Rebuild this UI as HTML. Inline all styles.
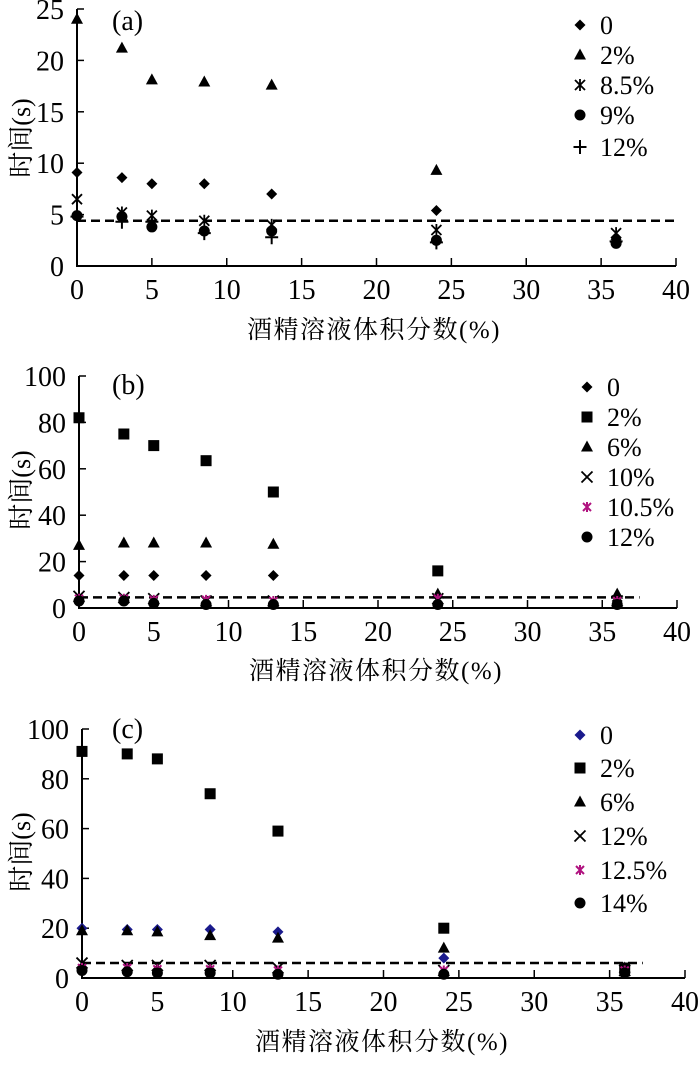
<!DOCTYPE html>
<html><head><meta charset="utf-8"><style>
body{margin:0;background:#fff}
svg text{font-family:"Liberation Serif","Noto Serif CJK SC",serif;fill:#000}
</style></head><body>
<svg id="s" width="700" height="1065" viewBox="0 0 700 1065" xmlns="http://www.w3.org/2000/svg">
<defs>
<path id="dia" d="M0,-5.5 L5.5,0 L0,5.5 L-5.5,0Z" fill="#000"/>
<path id="diab" d="M0,-5.5 L5.5,0 L0,5.5 L-5.5,0Z" fill="#1a1a8c"/>
<path id="tri" d="M0,-6.5 L6,4.5 L-6,4.5Z" fill="#000"/>
<rect id="sq" x="-5.5" y="-5.5" width="11" height="11" fill="#000"/>
<circle id="cir" r="5.5" fill="#000"/>
<path id="ast" d="M-5,-5L5,5M-5,5L5,-5M0,-6V6" stroke="#000" stroke-width="1.8" fill="none"/>
<path id="astp" d="M-4,-4L4,4M-4,4L4,-4M0,-5V5" stroke="#b0127f" stroke-width="2" fill="none"/>
<path id="xx" d="M-5.5,-5.5L5.5,5.5M-5.5,5.5L5.5,-5.5" stroke="#000" stroke-width="1.8" fill="none"/>
<path id="pl" d="M-6.5,0H6.5M0,-7V7" stroke="#000" stroke-width="2" fill="none"/>
</defs>
<g id="g"></g>
<text x="112" y="30" font-size="28">(a)</text>
<text x="374" y="338" font-size="25" letter-spacing="1.5" text-anchor="middle">酒精溶液体积分数(%)</text>
<text transform="translate(30,138) rotate(-90)" font-size="26" text-anchor="middle">时间(s)</text>
<g font-size="26"><text x="600" y="34">0</text><text x="600" y="64">2%</text><text x="600" y="94">8.5%</text><text x="600" y="124">9%</text><text x="600" y="156">12%</text></g>

<text x="112" y="394" font-size="28">(b)</text>
<text x="376" y="679" font-size="25" letter-spacing="1.5" text-anchor="middle">酒精溶液体积分数(%)</text>
<text transform="translate(30,490) rotate(-90)" font-size="26" text-anchor="middle">时间(s)</text>
<g font-size="26"><text x="607" y="396">0</text><text x="607" y="426">2%</text><text x="607" y="456">6%</text><text x="607" y="486">10%</text><text x="607" y="516">10.5%</text><text x="607" y="546">12%</text></g>

<text x="112" y="738" font-size="28">(c)</text>
<text x="382" y="1050" font-size="25" letter-spacing="1.5" text-anchor="middle">酒精溶液体积分数(%)</text>
<text transform="translate(30,852) rotate(-90)" font-size="26" text-anchor="middle">时间(s)</text>
<g font-size="26"><text x="600" y="744">0</text><text x="600" y="777">2%</text><text x="600" y="811">6%</text><text x="600" y="845">12%</text><text x="600" y="879">12.5%</text><text x="600" y="912">14%</text></g>
</svg>
<script>
var NS="http://www.w3.org/2000/svg",G=document.getElementById('g');
function el(t,a,p){var e=document.createElementNS(NS,t);for(var k in a)e.setAttribute(k,a[k]);(p||G).appendChild(e);return e;}
function use(id,x,y){var e=el('use',{x:x,y:y});e.setAttributeNS("http://www.w3.org/1999/xlink","href","#"+id);e.setAttribute('href','#'+id);}
var X=[0,3,5,8.5,13,24,36];
function panel(o){
 var fx=function(v){return o.x0+v*(o.x40-o.x0)/40},fy=function(v){return o.y0-v*(o.y0-o.yt)/o.ymax};
 el('path',{d:'M'+o.x0+','+o.yt+'V'+o.y0+'H'+o.x40,stroke:'#000','stroke-width':2,fill:'none'});
 for(var i=0;i<=40;i+=5){var x=fx(i);if(i>0)el('line',{x1:x,x2:x,y1:o.y0,y2:o.y0-8,stroke:'#000','stroke-width':1.5});
  var t=el('text',{x:x,y:o.y0+33,'font-size':28,'text-anchor':'middle'});t.textContent=i;}
 for(var v=0;v<=o.ymax;v+=o.ystep){var y=fy(v);if(v>0)el('line',{x1:o.x0,x2:o.x0+7,y1:y,y2:y,stroke:'#000','stroke-width':1.5});
  var t=el('text',{x:o.x0-13,y:y+10,'font-size':28,'text-anchor':'end'});t.textContent=v;}
 el('line',{x1:o.x0,x2:fx(o.dend),y1:fy(o.dash),y2:fy(o.dash),stroke:'#000','stroke-width':2.5,'stroke-dasharray':'9,5'});
 o.ser.forEach(function(s,k){s[1].forEach(function(v,i){if(v!=null)use(s[0],fx(X[i]),fy(v));});use(s[0],o.lx,o.ly[k]);});
}
panel({x0:77,x40:676,y0:266,yt:9,ymax:25,ystep:5,dash:4.4,dend:40,lx:580,ly:[25,55,85,115,147],ser:[
 ['dia',[9.1,8.6,8.0,8.0,7.0,5.4,2.6]],
 ['tri',[24,21.2,18.1,17.9,17.6,9.3,2.7]],
 ['ast',[6.5,5.2,4.9,4.4,4.0,3.5,3.2]],
 ['cir',[4.9,4.8,3.8,3.4,3.4,2.5,2.2]],
 ['pl',[4.8,4.3,4.3,3.2,2.8,2.3,2.4]]]});
panel({x0:79,x40:677,y0:608,yt:376,ymax:100,ystep:20,dash:4.6,dend:37.5,lx:587,ly:[387,417,447,477,507,537],ser:[
 ['dia',[14,14,14,14,14,5,3]],
 ['sq',[82,75,70,63.5,50,16,null]],
 ['tri',[27,28,28,28,27.5,6,6]],
 ['xx',[5,4.5,4,3,3,4,3]],
 ['astp',[4,4,3.5,3.5,3,4,3]],
 ['cir',[3,3,2,1.5,1.5,1.5,1.5]]]});
panel({x0:82,x40:685,y0:978,yt:729,ymax:100,ystep:20,dash:6,dend:37.2,lx:580,ly:[735,768,802,836,870,903],ser:[
 ['diab',[20,19.5,19.5,19.5,18.5,8,4]],
 ['sq',[91,90,88,74,59,20,4]],
 ['tri',[19,19,18.5,17,16,12,4]],
 ['xx',[6,5,5,5,4,3,3]],
 ['astp',[4,4,3.5,3.5,3,3,3]],
 ['cir',[3,2.5,2,2,1.5,1.5,2]]]});
</script>
</body></html>
